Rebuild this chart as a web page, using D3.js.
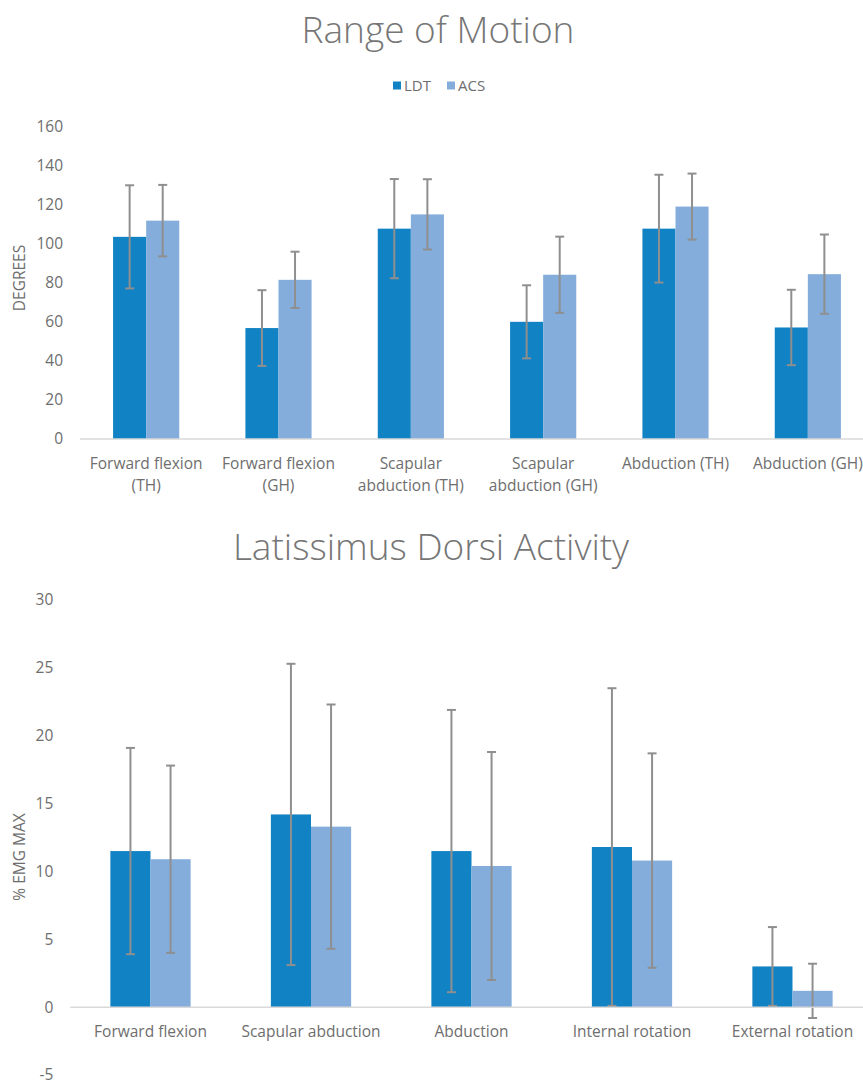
<!DOCTYPE html>
<html>
<head>
<meta charset="utf-8">
<script src="https://cdn.jsdelivr.net/npm/d3@7"></script>
<style>
  body { margin: 0; background: #fff; }
  svg { display: block; font-family: "Open Sans", "Noto Sans", sans-serif; }
</style>
</head>
<body>
<div id="chart"></div>
<script>
// ---- data ----
const series = ["LDT", "ACS"];
const seriesColors = ["#1182c3", "#85addb"];

// Range of Motion (degrees), mean and SD
const romCategories = [
  "Forward flexion (TH)",
  "Forward flexion (GH)",
  "Scapular abduction (TH)",
  "Scapular abduction (GH)",
  "Abduction (TH)",
  "Abduction (GH)"
];
const romLDT = [103.5, 56.8, 107.7, 60.0, 107.7, 57.1];
const romLDTsd = [26.4, 19.4, 25.4, 18.7, 27.6, 19.3];
const romACS = [111.8, 81.5, 115.0, 84.1, 119.0, 84.4];
const romACSsd = [18.3, 14.4, 18.0, 19.5, 16.9, 20.3];
const romTicks = [0, 20, 40, 60, 80, 100, 120, 140, 160];

// Latissimus Dorsi activity (% EMG max)
const ldCategories = [
  "Forward flexion",
  "Scapular abduction",
  "Abduction",
  "Internal rotation",
  "External rotation"
];
const ldLDT = [11.5, 14.2, 11.5, 11.8, 3.0];
const ldLDTsd = [7.6, 11.1, 10.4, 11.7, 2.9];
const ldACS = [10.9, 13.3, 10.4, 10.8, 1.2];
const ldACSsd = [6.9, 9.0, 8.4, 7.9, 2.0];
const ldTicks = [-5, 0, 5, 10, 15, 20, 25, 30];

const W = 863, H = 1080;
const textColor = "#6e6e6e";
const titleColor = "#767676";
const errColor = "#8f8f8f";

const svg = d3.select("#chart").append("svg")
  .attr("width", W)
  .attr("height", H);

function wrapLabel(textSel, width, lineHeight) {
  textSel.each(function () {
    const text = d3.select(this);
    const words = text.text().split(/\s+/);
    const x = text.attr("x");
    text.text(null);
    let line = [];
    let tspan = text.append("tspan").attr("x", x).attr("dy", 0);
    words.forEach(w => {
      line.push(w);
      tspan.text(line.join(" "));
      if (tspan.node().getComputedTextLength() > width && line.length > 1) {
        line.pop();
        tspan.text(line.join(" "));
        line = [w];
        tspan = text.append("tspan").attr("x", x).attr("dy", lineHeight).text(w);
      }
    });
  });
}

function drawChart(cfg) {
  const g = svg.append("g");

  const rows = cfg.categories.map((c, i) => ({
    category: c,
    values: [
      { key: series[0], value: cfg.a[i], sd: cfg.asd[i] },
      { key: series[1], value: cfg.b[i], sd: cfg.bsd[i] }
    ]
  }));

  const x0 = d3.scaleBand()
    .domain(cfg.categories)
    .range([cfg.left, cfg.right])
    .paddingInner(0.5)
    .paddingOuter(0.25);

  const x1 = d3.scaleBand()
    .domain(series)
    .range([0, x0.bandwidth()]);

  const color = d3.scaleOrdinal().domain(series).range(seriesColors);

  const y = d3.scaleLinear()
    .domain(cfg.domain)
    .range([cfg.bottom, cfg.top]);

  // y axis labels (plain hyphen for negatives, like the original)
  const yAxis = g.append("g")
    .attr("transform", `translate(${cfg.left},0)`)
    .call(d3.axisLeft(y)
      .tickValues(cfg.ticks)
      .tickFormat(d => String(d))
      .tickSize(0)
      .tickPadding(17));
  yAxis.select(".domain").remove();
  yAxis.selectAll("text")
    .attr("fill", textColor)
    .style("font-size", "15.5px")
    .style("font-family", "'Open Sans', sans-serif");

  // bars
  const groups = g.selectAll(".grp")
    .data(rows)
    .join("g")
    .attr("class", "grp")
    .attr("transform", d => `translate(${x0(d.category)},0)`);

  groups.selectAll("rect")
    .data(d => d.values)
    .join("rect")
    .attr("x", d => x1(d.key))
    .attr("width", x1.bandwidth())
    .attr("y", d => y(Math.max(0, d.value)))
    .attr("height", d => Math.abs(y(d.value) - y(0)))
    .attr("fill", d => color(d.key));

  // baseline
  g.append("line")
    .attr("x1", cfg.left)
    .attr("x2", W)
    .attr("y1", y(0))
    .attr("y2", y(0))
    .attr("stroke", "#d9d9d9")
    .attr("stroke-width", 1.5);

  // error bars
  const err = groups.selectAll(".err")
    .data(d => d.values)
    .join("g")
    .attr("class", "err")
    .attr("stroke", errColor)
    .attr("stroke-width", 2);
  const cx = d => x1(d.key) + x1.bandwidth() / 2;
  err.append("line")
    .attr("x1", cx).attr("x2", cx)
    .attr("y1", d => y(d.value + d.sd))
    .attr("y2", d => y(d.value - d.sd));
  err.append("line")
    .attr("x1", d => cx(d) - 4.5).attr("x2", d => cx(d) + 4.5)
    .attr("y1", d => y(d.value + d.sd))
    .attr("y2", d => y(d.value + d.sd));
  err.append("line")
    .attr("x1", d => cx(d) - 4.5).attr("x2", d => cx(d) + 4.5)
    .attr("y1", d => y(d.value - d.sd))
    .attr("y2", d => y(d.value - d.sd));

  // category labels
  g.selectAll(".cat")
    .data(cfg.categories)
    .join("text")
    .attr("class", "cat")
    .attr("x", d => x0(d) + x0.bandwidth() / 2)
    .attr("y", y(0) + cfg.labelOffset)
    .attr("text-anchor", "middle")
    .attr("fill", textColor)
    .style("font-size", "15.5px")
    .text(d => d)
    .call(wrapLabel, x0.step() - 10, 22);

  // title
  g.append("text")
    .attr("x", cfg.titleX)
    .attr("y", cfg.titleY)
    .attr("text-anchor", "middle")
    .attr("fill", titleColor)
    .style("font-size", "37px")
    .style("font-weight", 300)
    .text(cfg.title);

  // y axis title
  g.append("text")
    .attr("transform", `translate(${cfg.yTitleX},${cfg.yTitleY}) rotate(-90)`)
    .attr("text-anchor", "middle")
    .attr("fill", textColor)
    .style("font-size", "15.5px")
    .text(cfg.yTitle);

  return { color };
}

const rom = drawChart({
  title: "Range of Motion",
  titleX: 438, titleY: 43,
  yTitle: "DEGREES",
  yTitleX: 24.5, yTitleY: 278,
  categories: romCategories,
  a: romLDT, asd: romLDTsd,
  b: romACS, bsd: romACSsd,
  domain: [0, 160],
  ticks: romTicks,
  left: 80, right: 874,
  top: 126.5, bottom: 439,
  labelOffset: 29.5
});

drawChart({
  title: "Latissimus Dorsi Activity",
  titleX: 431, titleY: 560,
  yTitle: "% EMG MAX",
  yTitleX: 25, yTitleY: 857,
  categories: ldCategories,
  a: ldLDT, asd: ldLDTsd,
  b: ldACS, bsd: ldACSsd,
  domain: [-5, 30],
  ticks: ldTicks,
  left: 70.25, right: 872.75,
  top: 600, bottom: 1075,
  labelOffset: 30
});

// legend (top chart only)
const legend = svg.append("g").attr("transform", "translate(393,81.5)");
const item = legend.selectAll(".item")
  .data(series)
  .join("g")
  .attr("class", "item")
  .attr("transform", (d, i) => `translate(${i * 54},0)`);
item.append("rect")
  .attr("width", 8)
  .attr("height", 8)
  .attr("fill", d => rom.color(d));
item.append("text")
  .attr("x", 11)
  .attr("y", 9)
  .attr("fill", textColor)
  .style("font-size", "15px")
  .text(d => d);
</script>
</body>
</html>
